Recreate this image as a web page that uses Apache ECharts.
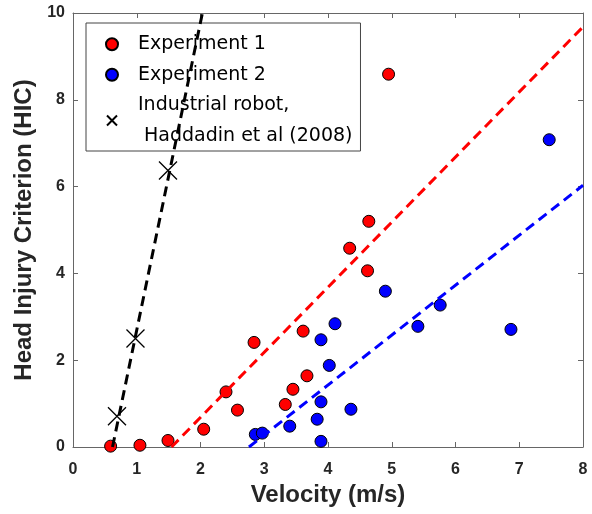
<!DOCTYPE html>
<html>
<head>
<meta charset="utf-8">
<script src="https://cdn.jsdelivr.net/npm/echarts@6/dist/echarts.min.js"></script>
<style>html,body{margin:0;padding:0;background:#fff}#c{width:592px;height:514px}</style>
</head>
<body>
<div id="c"></div>
<script>
// Data
var exp1 = [[0.59,0.02],[1.05,0.04],[1.49,0.15],[2.05,0.41],[2.40,1.27],[2.58,0.85],[2.84,2.41],
  [3.33,0.98],[3.45,1.33],[3.61,2.67],[3.67,1.64],[4.34,4.58],[4.62,4.06],[4.64,5.20],[4.95,8.59]];
var exp2 = [[2.86,0.29],[2.97,0.32],[3.40,0.48],[3.83,0.64],[3.89,1.04],[3.89,0.13],[3.89,2.47],
  [4.02,1.88],[4.11,2.84],[4.36,0.87],[4.90,3.59],[5.41,2.78],[5.76,3.27],[6.87,2.71],[7.47,7.08]];
var robot = [[0.69,0.71],[0.98,2.50],[1.49,6.37]];
var fitRobot = [[0.62,0],[2.03,10]];
var fitExp1 = [[1.545,0],[8,9.68]];
var fitExp2 = [[2.76,0],[8,6.03]];
var xTicks = [0,1,2,3,4,5,6,7,8];
var yTicks = [0,2,4,6,8,10];
var names = ['Experiment 1','Experiment 2','Industrial robot,\n Haddadin et al (2008)'];

var axisColor = '#666';
var labelFont = {fontFamily:'Liberation Sans, Arial, sans-serif', fontWeight:'bold', fontSize:16, color:'#262626'};
var nameFont = {fontFamily:'Liberation Sans, Arial, sans-serif', fontWeight:'bold', fontSize:24, color:'#262626'};
var crossPath = 'path://M0,0L10,10M10,0L0,10';
var crossLegend = 'path://M-1,-1M0,0L10,10M10,0L0,10M11,11';

function mkX(pos, show){
  return {type:'value', position:pos, min:xTicks[0], max:xTicks[xTicks.length-1], interval:1,
    axisLine:{show:true, onZero:false, lineStyle:{color:axisColor, width:1}},
    axisTick:{show:true, inside:true, length:5, lineStyle:{color:axisColor}},
    axisLabel:{show:show, margin:15, textStyle:labelFont},
    splitLine:{show:false},
    name: show ? 'Velocity (m/s)' : '', nameLocation:'middle', nameGap:35, nameTextStyle:nameFont};
}
function mkY(pos, show){
  return {type:'value', position:pos, min:yTicks[0], max:yTicks[yTicks.length-1], interval:2,
    axisLine:{show:true, onZero:false, lineStyle:{color:axisColor, width:1}},
    axisTick:{show:true, inside:true, length:5, lineStyle:{color:axisColor}},
    axisLabel:{show:show, margin:8, textStyle:labelFont},
    splitLine:{show:false},
    name: show ? 'Head Injury Criterion (HIC)' : '', nameLocation:'middle', nameGap:30, nameTextStyle:nameFont};
}

function fitLine(d, color){
  return {type:'line', data:d, symbol:'none', silent:true, z:5, clip:true,
    lineStyle:{color:color, width:3, type:[10,6]}};
}

var chart = echarts.init(document.getElementById('c'), null, {renderer:'canvas'});
chart.setOption({
  animation:false,
  backgroundColor:'#fff',
  grid:{left:73, right:9, top:13, bottom:67, containLabel:false},
  xAxis:[mkX('bottom', true), mkX('top', false)],
  yAxis:[mkY('left', true), mkY('right', false)],
  legend:{
    orient:'vertical', left:86, top:23, itemGap:0, itemWidth:42, itemHeight:12,
    padding:[6,8,0,19], backgroundColor:'#fff', borderColor:'#444', borderWidth:1, borderRadius:0,
    textStyle:{fontFamily:'DejaVu Sans, sans-serif', fontSize:19, lineHeight:30.5, color:'#000'},
    data:[{name:names[0], icon:'circle'},{name:names[1], icon:'circle'},{name:names[2], icon:crossLegend}]
  },
  series:[
    {name:names[0], type:'scatter', data:exp1, symbol:'circle', symbolSize:12, z:3,
      itemStyle:{color:'#ff0000', borderColor:'#000', borderWidth:1, opacity:1}},
    {name:names[1], type:'scatter', data:exp2, symbol:'circle', symbolSize:12, z:3,
      itemStyle:{color:'#0000ff', borderColor:'#000', borderWidth:1, opacity:1}},
    {name:names[2], type:'scatter', data:robot, symbol:crossPath, symbolSize:18, z:3,
      itemStyle:{color:'rgba(0,0,0,0)', borderColor:'#000', borderWidth:1.3, opacity:1}},
    fitLine(fitRobot, '#000'),
    fitLine(fitExp1, '#ff0000'),
    fitLine(fitExp2, '#0000ff')
  ]
});
</script>
</body>
</html>
